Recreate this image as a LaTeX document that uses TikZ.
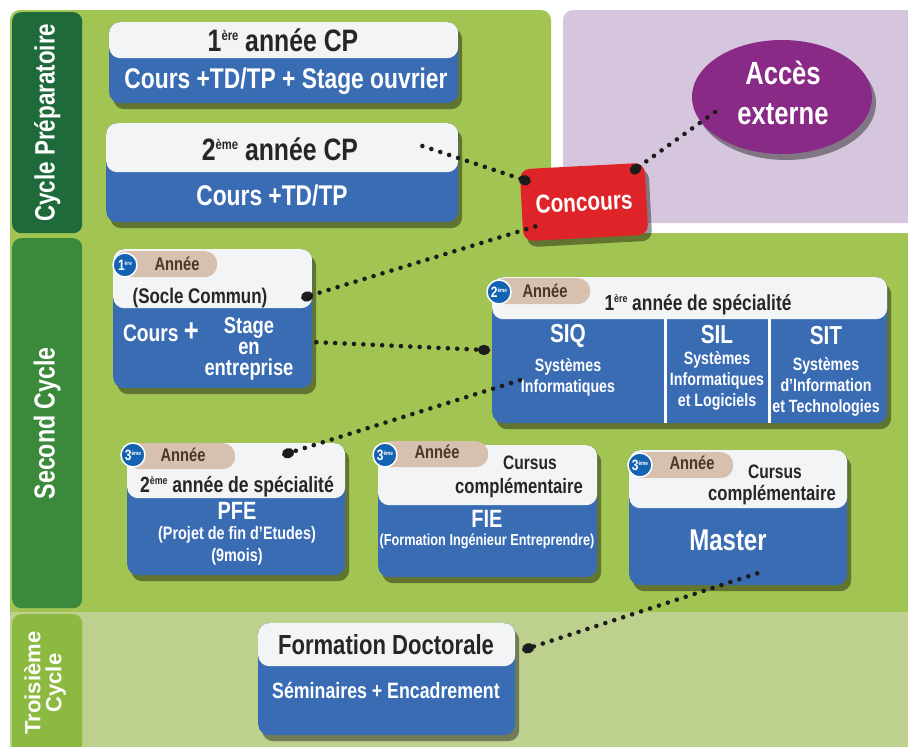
\documentclass[tikz,border=0pt]{standalone}
\usepackage{fontspec}
\usetikzlibrary{shadows,arrows.meta,shapes.geometric}
\newfontfamily\cf{Liberation Sans}[FakeStretch=0.8]
\newfontfamily\wf{Liberation Sans}
\newcommand\myfs[2]{\fontsize{#1}{#2}\selectfont}
\newcommand\sups[3]{\raisebox{#2pt}{\myfs{#1}{#1}#3}}
\definecolor{cblue}{HTML}{3A6CB4}
\definecolor{cwhite}{HTML}{F3F4F6}
\definecolor{gA}{HTML}{A2C452}
\definecolor{gB}{HTML}{BDD08D}
\definecolor{tabA}{HTML}{1E6A3A}
\definecolor{tabB}{HTML}{3B8A3B}
\definecolor{tabC}{HTML}{8CB93F}
\definecolor{lav}{HTML}{D6C6DD}
\definecolor{plum}{HTML}{8A2A87}
\definecolor{cred}{HTML}{DE2329}
\definecolor{ctan}{HTML}{D8C0AF}
\definecolor{cbadge}{HTML}{1462B2}
\definecolor{ink}{HTML}{262626}
\definecolor{brownink}{HTML}{4A362A}
\definecolor{dotc}{HTML}{1C1C1C}
\tikzset{
 card/.style={fill=cblue, rounded corners=11pt, inner sep=0pt, anchor=north west,
   drop shadow={opacity=0.4, shadow xshift=4pt, shadow yshift=-6pt, fill=black},
   path picture={\fill[cwhite] ([yshift=2pt]path picture bounding box.north west) rectangle ([yshift=-#1]path picture bounding box.north east);}},
 hd/.style={text=ink, inner sep=0pt, align=center},
 bd/.style={text=white, inner sep=0pt, align=center},
 pill/.style={fill=ctan, rounded corners=12.5pt, anchor=north west, inner sep=0pt, minimum height=26pt},
 annee/.style={text=brownink, inner sep=0pt, font=\cf\bfseries\myfs{18.4}{18.4}},
 badgec/.style={circle, fill=cbadge, draw=white, line width=1.5pt, minimum size=24pt, inner sep=0pt, text=white, font=\cf\bfseries\myfs{15}{15}},
 tabbox/.style={rounded corners=9pt, anchor=north west, inner sep=0pt},
 tabtxt/.style={rotate=90, text=white, inner sep=0pt, align=center},
 dots/.style={draw=dotc, line width=4.6pt, line cap=round, dash pattern=on 0pt off 9.4pt, -{Circle[length=12pt,width=10pt]}},
}
\begin{document}
\begin{tikzpicture}[x=1pt,y=-1pt]
\useasboundingbox (0,0) rectangle (908,747);
\fill[white] (0,0) rectangle (908,747);
% bands
\fill[gA, rounded corners=10pt] (10,10) rectangle (551,300);
\fill[gA] (10,233) rectangle (908,612);
\fill[lav, rounded corners=10pt] (563,10) rectangle (940,223);
\fill[gB] (10,612) rectangle (908,747);
% tabs
\node[tabbox, fill=tabA, minimum width=70pt, minimum height=221pt] (tabCP) at (12,12) {};
\node[tabtxt, font=\cf\bfseries\myfs{28}{28}] (tabCPt) at (tabCP.center) {Cycle Préparatoire};
\node[tabbox, fill=tabB, minimum width=70pt, minimum height=370pt] (tabSC) at (12,238) {};
\node[tabtxt, font=\cf\bfseries\myfs{29}{29}] (tabSCt) at (tabSC.center) {Second Cycle};
\node[tabbox, fill=tabC, minimum width=70pt, minimum height=150pt] (tabTC) at (12,614) {};
\node[tabtxt, font=\wf\bfseries\myfs{22}{21}] (tabTCt) at (45,683) {Troisième\\Cycle};
% cycle preparatoire
\node[card=36pt, minimum width=349pt, minimum height=81pt] (cp1) at (109,22) {};
\node[hd, font=\cf\bfseries\myfs{31}{31}] (cp1t) at (283,40) {1\sups{14}{11}{ère} année CP};
\node[bd, font=\cf\bfseries\myfs{28.5}{28.5}] (cp1b) at (286,81) {Cours +TD/TP + Stage ouvrier};
\node[card=49pt, minimum width=352pt, minimum height=99pt] (cp2) at (106,123) {};
\node[hd, font=\cf\bfseries\myfs{31}{31}] (cp2t) at (280,149) {2\sups{14}{11}{ème} année CP};
\node[bd, font=\cf\bfseries\myfs{28.5}{28.5}] (cp2b) at (272,195) {Cours +TD/TP};
% acces / concours
\node[ellipse, fill=plum, minimum width=180pt, minimum height=114pt, drop shadow={opacity=0.4, shadow xshift=4pt, shadow yshift=-6pt, fill=black}] (acc) at (782,97) {};
\node[bd, font=\cf\bfseries\myfs{32}{40}] (acct) at (783,93) {Accès\\externe};
\node[fill=cred, rounded corners=10pt, minimum width=125pt, minimum height=72pt, rotate=3, drop shadow={opacity=0.4, shadow xshift=4pt, shadow yshift=-6pt, fill=black}, text=white, font=\cf\bfseries\myfs{26}{26}] (conc) at (584,202) {Concours};
% 1ere annee
\node[card=59pt, minimum width=199pt, minimum height=139pt] (a1) at (113,249) {};
\node[pill, minimum width=104pt] (p1) at (113,251) {};
\node[badgec] (b1) at (125,265) {1\sups{6}{5}{ère}};
\node[annee] (p1t) at (177,264) {Année};
\node[hd, font=\cf\bfseries\myfs{21.2}{21.2}] (a1t) at (200,298) {(Socle Commun)};
\node[bd, font=\cf\bfseries\myfs{24}{24}] (a1c) at (161,332) {Cours {\myfs{32}{32}+}};
\node[bd, font=\cf\bfseries\myfs{23}{21}] (a1s) at (249,349) {Stage\\en\\entreprise};
% 2eme annee
\node[card=42pt, minimum width=395pt, minimum height=146pt] (a2) at (492,277) {};
\node[pill, minimum width=98pt] (p2) at (492,278) {};
\node[badgec] (b2) at (499,292) {2\sups{6}{5}{ème}};
\node[annee] (p2t) at (545,291) {Année};
\node[hd, font=\cf\bfseries\myfs{21.7}{21.7}] (a2t) at (698,305) {1\sups{11}{8}{ère} année de spécialité};
\draw[white, line width=3pt] (665,319) -- (665,423);
\draw[white, line width=3pt] (769,319) -- (769,423);
\node[bd, font=\cf\bfseries\myfs{26}{26}] (siq) at (568,336) {SIQ};
\node[bd, font=\cf\bfseries\myfs{17.8}{21}] (siqt) at (568,377) {Systèmes\\Informatiques};
\node[bd, font=\cf\bfseries\myfs{26}{26}] (sil) at (717,335) {SIL};
\node[bd, font=\cf\bfseries\myfs{17.8}{21}] (silt) at (717,381) {Systèmes\\Informatiques\\et Logiciels};
\node[bd, font=\cf\bfseries\myfs{26}{26}] (sit) at (826,336) {SIT};
\node[bd, font=\cf\bfseries\myfs{17.8}{21}] (sitt) at (826,387) {Systèmes\\d’Information\\et Technologies};
% PFE
\node[card=55pt, minimum width=218pt, minimum height=132pt] (pfe) at (127,443) {};
\node[pill, minimum width=108pt] (p3) at (127,443) {};
\node[badgec] (b3) at (133,455) {3\sups{6}{5}{ème}};
\node[annee] (p3t) at (183,455) {Année};
\node[hd, font=\cf\bfseries\myfs{22}{22}] (pfet) at (237,487) {2\sups{11}{8}{ème} année de spécialité};
\node[bd, font=\cf\bfseries\myfs{25}{25}] (pfeb) at (237,511) {PFE};
\node[bd, font=\cf\bfseries\myfs{18}{22}] (pfed) at (237,546) {(Projet de fin d’Etudes)\\(9mois)};
% FIE
\node[card=60pt, minimum width=219pt, minimum height=132pt] (fie) at (378,445) {};
\node[pill, minimum width=110pt] (p4) at (378,441) {};
\node[badgec] (b4) at (385,455) {3\sups{6}{5}{ème}};
\node[annee] (p4t) at (437,452) {Année};
\node[hd, font=\cf\bfseries\myfs{19.5}{19.5}] (fiec) at (530,463) {Cursus};
\node[hd, font=\cf\bfseries\myfs{20.8}{20.8}] (fiec2) at (519,488) {complémentaire};
\node[bd, font=\cf\bfseries\myfs{25}{25}] (fieb) at (487,519) {FIE};
\node[bd, font=\cf\bfseries\myfs{15.9}{15.9}] (fied) at (487,541) {(Formation Ingénieur Entreprendre)};
% Master
\node[card=58pt, minimum width=218pt, minimum height=135pt] (master) at (629,450) {};
\node[pill, minimum width=104pt] (p5) at (629,452) {};
\node[badgec] (b5) at (640,465) {3\sups{6}{5}{ème}};
\node[annee] (p5t) at (692,463) {Année};
\node[hd, font=\cf\bfseries\myfs{19.5}{19.5}] (masc) at (775,472) {Cursus};
\node[hd, font=\cf\bfseries\myfs{20.8}{20.8}] (masc2) at (772,495) {complémentaire};
\node[bd, font=\cf\bfseries\myfs{30}{30}] (masb) at (728,540) {Master};
% Formation doctorale
\node[card=43pt, minimum width=257pt, minimum height=112pt] (fd) at (258,623) {};
\node[hd, font=\cf\bfseries\myfs{27.6}{27.6}] (fdt) at (386,645) {Formation Doctorale};
\node[bd, font=\cf\bfseries\myfs{22.2}{22.2}] (fdb) at (386,690) {Séminaires + Encadrement};
% connectors
\draw[dots] ([xshift=-36pt,yshift=-23pt]cp2.north east) -- ([xshift=11pt,yshift=-13pt]conc.north west);
\draw[dots] ([xshift=-67pt,yshift=-15pt]acc.center) -- ([xshift=-14pt,yshift=-10pt]conc.north east);
\draw[dots] ([xshift=12pt,yshift=15pt]conc.south west) -- ([xshift=-11pt,yshift=20.5pt]a1.east);
\draw[dots] ([xshift=4pt,yshift=-23.5pt]a1.east) -- ([xshift=-2pt]a2.west);
\draw[dots] ([xshift=28pt,yshift=-30pt]a2.west) -- ([xshift=-63pt,yshift=-12pt]pfe.north east);
\draw[dots] ([xshift=19pt,yshift=12pt]master.south) -- ([xshift=7pt,yshift=29pt]fd.east);
\end{tikzpicture}
\end{document}
